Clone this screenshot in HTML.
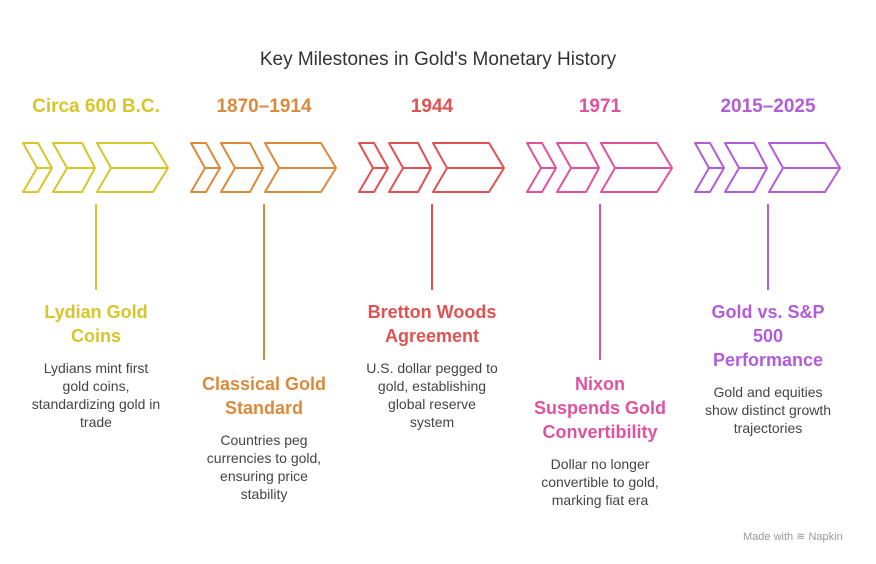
<!DOCTYPE html>
<html><head><meta charset="utf-8"><style>
body{margin:0;width:876px;height:564px;background:#fff;font-family:"Liberation Sans",sans-serif;position:relative;overflow:hidden}
.t{position:absolute;text-align:center;white-space:nowrap}
.yr{font-size:19px;font-weight:bold;top:96px;width:168px}
.ti{font-size:18px;font-weight:bold;line-height:24px;width:168px}
.de{font-size:14px;line-height:18px;color:#444;width:168px}
</style></head><body>
<div class="t" style="top:49px;left:0;width:876px;font-size:19px;color:#333">Key Milestones in Gold's Monetary History</div>
<svg width="876" height="564" style="position:absolute;left:0;top:0">
<g fill="none" stroke-width="2" stroke-linejoin="round" id="g"></g>
</svg>
<div id="texts"></div>
<div class="t" style="top:530px;left:743px;font-size:11px;color:#999">Made with ≋ Napkin</div>
<script>
const cols=['#d8c52a','#db8a3b','#df5252','#df52a0','#b35cd8'];
const years=['Circa 600 B.C.','1870–1914','1944','1971','2015–2025'];
const titles=[['Lydian Gold','Coins'],['Classical Gold','Standard'],['Bretton Woods','Agreement'],['Nixon','Suspends Gold','Convertibility'],['Gold vs. S&P','500','Performance']];
const descs=[['Lydians mint first','gold coins,','standardizing gold in','trade'],['Countries peg','currencies to gold,','ensuring price','stability'],['U.S. dollar pegged to','gold, establishing','global reserve','system'],['Dollar no longer','convertible to gold,','marking fiat era'],['Gold and equities','show distinct growth','trajectories']];
const lineEnd=[290,360,290,360,290];
const g=document.getElementById('g'),T=document.getElementById('texts');
function chev(x0,x1,x2,tip,c){ // left, notch, top-right
 const p=document.createElementNS('http://www.w3.org/2000/svg','path');
 p.setAttribute('d',`M${x0} 143 L${x2} 143 L${tip} 168 L${x2} 192 L${x0} 192 L${x1} 168 Z M${x1} 168 L${tip} 168`);
 p.setAttribute('stroke',c);
 
 
 g.appendChild(p);
}
for(let i=0;i<5;i++){
 const o=168*i,c=cols[i],cx=96+o;
 chev(23+o,37+o,38+o,52+o,c);chev(53+o,67+o,82+o,95+o,c);chev(97+o,111+o,153+o,168+o,c);
 const l=document.createElementNS('http://www.w3.org/2000/svg','line');
 l.setAttribute('x1',cx);l.setAttribute('x2',cx);l.setAttribute('y1',204);l.setAttribute('y2',lineEnd[i]);l.setAttribute('stroke',c);
 
 
 g.appendChild(l);
 const top=lineEnd[i]===290?300:372;
 let d=document.createElement('div');d.className='t yr';d.style.left=(cx-84)+'px';d.style.color=c;d.textContent=years[i];
 
 
 T.appendChild(d);
 d=document.createElement('div');d.className='t ti';d.style.left=(cx-84)+'px';d.style.top=top+'px';d.style.color=c;d.innerHTML=titles[i].join('<br>').replace('&','&amp;');
 
 
 T.appendChild(d);
 d=document.createElement('div');d.className='t de';d.style.left=(cx-84)+'px';d.style.top=(top+titles[i].length*24+11)+'px';d.innerHTML=descs[i].join('<br>');
 
 
 T.appendChild(d);
}
</script>
</body></html>
